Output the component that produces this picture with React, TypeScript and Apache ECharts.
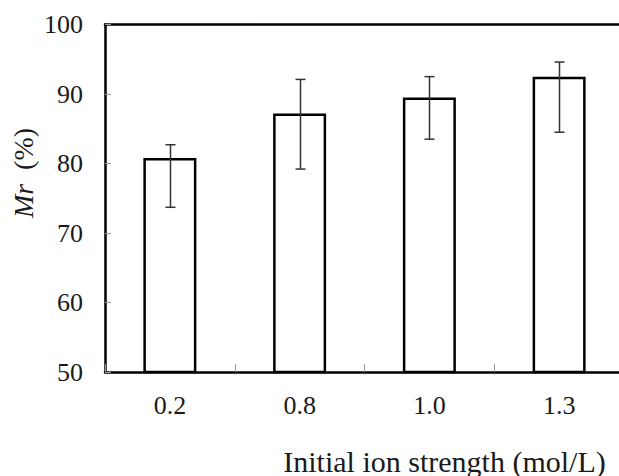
import React, { useEffect, useRef } from 'react';
import * as echarts from 'echarts';

const categories = ['0.2', '0.8', '1.0', '1.3'];
const meanValues = [80.8, 87.2, 89.5, 92.5];
const errLow = [73.7, 79.2, 83.5, 84.5];
const errHigh = [82.7, 92.1, 92.5, 94.6];
const yMin = 50;
const yMax = 100;
const yStep = 10;
const xTitle = 'Initial ion strength (mol/L)';

const FONT = 'Liberation Serif';

export default function App() {
  const ref = useRef<HTMLDivElement>(null);
  useEffect(() => {
    document.body.style.margin = '0';
    const chart = echarts.init(ref.current!, null, { renderer: 'svg' });
    const errData = categories.map((_, i) => [i, errLow[i], errHigh[i]]);
    chart.setOption({
      animation: false,
      backgroundColor: '#ffffff',
      textStyle: { fontFamily: FONT },
      grid: {
        left: 105,
        top: 24.5,
        width: 519,
        height: 347.5,
        outerBoundsMode: 'none',
        containLabel: false,
        show: false,
      },
      xAxis: [
        {
          type: 'category',
          data: categories,
          boundaryGap: true,
          axisLine: { show: true, lineStyle: { color: '#000', width: 2.5 } },
          axisTick: { show: true, inside: true, length: 8, lineStyle: { color: '#999', width: 1 } },
          axisLabel: { color: '#1a1a1a', fontFamily: FONT, fontSize: 26, margin: 20 },
          splitLine: { show: false },
        },
        {
          type: 'category',
          data: categories,
          position: 'top',
          axisLine: { show: true, lineStyle: { color: '#000', width: 2.5 } },
          axisTick: { show: false },
          axisLabel: { show: false },
          splitLine: { show: false },
        },
      ],
      yAxis: {
        type: 'value',
        min: yMin,
        max: yMax,
        interval: yStep,
        axisLine: { show: true, lineStyle: { color: '#000', width: 2.5 } },
        axisTick: { show: true, inside: true, length: 6, lineStyle: { color: '#999', width: 1 } },
        axisLabel: { color: '#1a1a1a', fontFamily: FONT, fontSize: 26, margin: 22 },
        splitLine: { show: false },
      },
      graphic: [
        {
          type: 'text',
          x: 444.5,
          y: 461,
          style: {
            text: xTitle,
            fontFamily: FONT,
            fontSize: 30,
            fill: '#1a1a1a',
            align: 'center',
            verticalAlign: 'middle',
          },
        },
        {
          type: 'text',
          x: 23,
          y: 173,
          rotation: Math.PI / 2,
          style: {
            text: '{i|Mr}  (%)',
            fontFamily: FONT,
            fontSize: 28,
            fill: '#1a1a1a',
            align: 'center',
            verticalAlign: 'middle',
            rich: {
              i: { fontStyle: 'italic', fontFamily: FONT, fontSize: 28, fill: '#1a1a1a' },
            },
          },
        },
      ],
      series: [
        {
          type: 'bar',
          data: meanValues,
          barWidth: 53,
          itemStyle: { color: '#ffffff', borderColor: '#000', borderWidth: 2.5 },
          z: 2,
        },
        {
          type: 'custom',
          data: errData,
          z: 5,
          renderItem: (params: any, api: any) => {
            const i = api.value(0);
            const lo = api.coord([i, api.value(1)]);
            const hi = api.coord([i, api.value(2)]);
            const x = Math.round(hi[0]) + 0.5;
            const cap = 5;
            const style = { stroke: '#333', lineWidth: 1.5 };
            return {
              type: 'group',
              children: [
                { type: 'line', shape: { x1: x, y1: hi[1], x2: x, y2: lo[1] }, style },
                { type: 'line', shape: { x1: x - cap, y1: hi[1], x2: x + cap, y2: hi[1] }, style },
                { type: 'line', shape: { x1: x - cap, y1: lo[1], x2: x + cap, y2: lo[1] }, style },
              ],
            };
          },
        },
      ],
    });
    return () => chart.dispose();
  }, []);
  return <div ref={ref} style={{ width: 619, height: 476 }} />;
}
